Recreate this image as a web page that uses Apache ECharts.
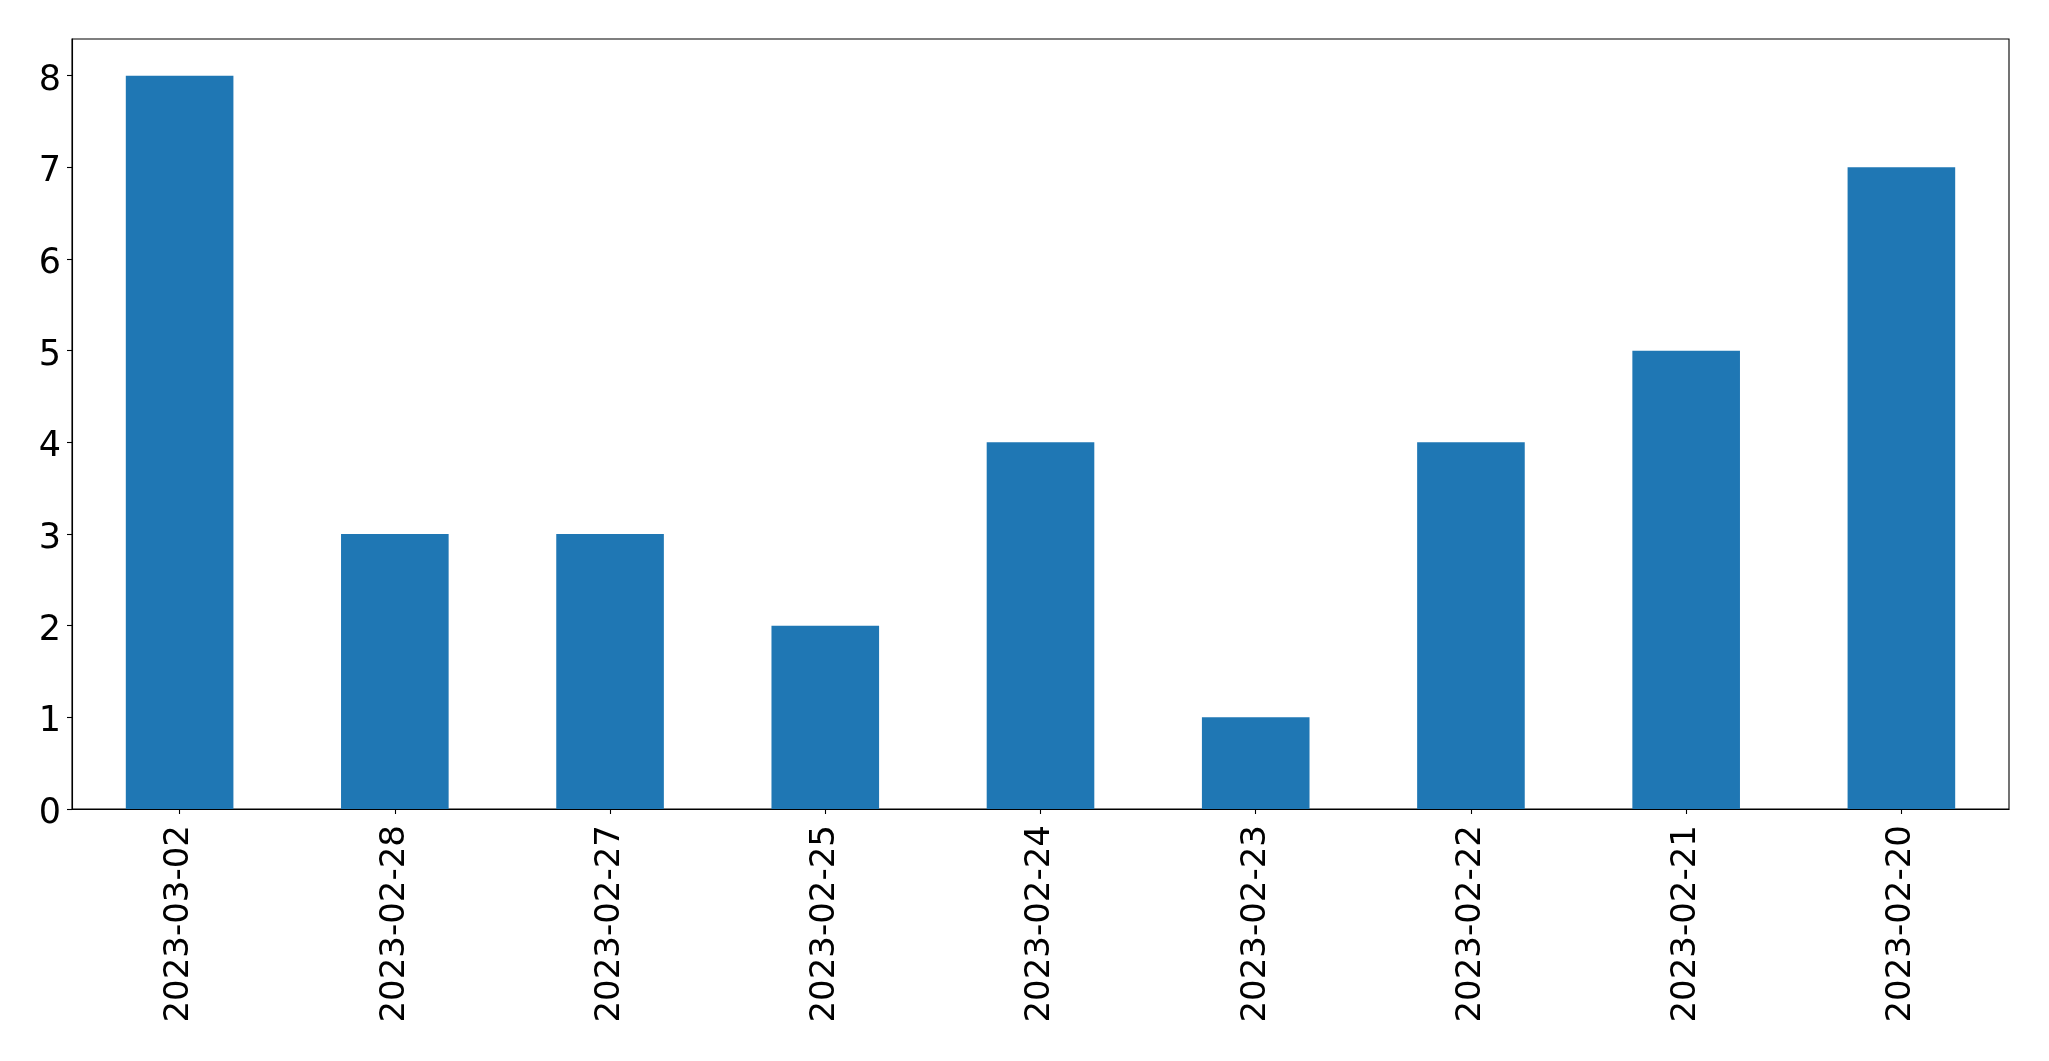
<!DOCTYPE html>
<html>
<head>
<meta charset="utf-8">
<script src="https://cdn.jsdelivr.net/npm/echarts@6/dist/echarts.min.js"></script>
<style>html,body{margin:0;padding:0;background:#fff;}#c{width:2049px;height:1061px;}</style>
</head>
<body>
<div id="c"></div>
<script>
const categories = ["2023-03-02","2023-02-28","2023-02-27","2023-02-25","2023-02-24","2023-02-23","2023-02-22","2023-02-21","2023-02-20"];
const values = [8,3,3,2,4,1,4,5,7];
const yTicks = [0,1,2,3,4,5,6,7,8];

const chart = echarts.init(document.getElementById('c'), null, {renderer:'canvas'});
const font = 'DejaVu Sans';
chart.setOption({
  animation:false,
  backgroundColor:'#fff',
  grid:{left:72, right:40, top:39, bottom:252, show:true, borderColor:'#000', borderWidth:1.1, backgroundColor:'transparent'},
  xAxis:{
    type:'category', data:categories, boundaryGap:true,
    axisLine:{show:true, lineStyle:{color:'#000', width:1.1}},
    axisTick:{show:true, alignWithLabel:true, length:5, lineStyle:{color:'#000', width:1.1}},
    axisLabel:{rotate:90, color:'#000', fontFamily:font, fontSize:34, margin:16, interval:0},
    splitLine:{show:false}
  },
  yAxis:{
    type:'value', min:0, max:8.4, interval:1,
    axisLine:{show:true, lineStyle:{color:'#000', width:1.1}},
    axisTick:{show:true, length:5, customValues:yTicks, lineStyle:{color:'#000', width:1.1}},
    axisLabel:{
      color:'#000', fontFamily:font, fontSize:35, margin:11, customValues:yTicks,
      formatter:function(v){ return '{a|' + v + '}'; },
      rich:{a:{color:'#000', fontFamily:font, fontSize:35, padding:[10,0,0,0]}}
    },
    splitLine:{show:false}
  },
  series:[{type:'bar', data:values, barWidth:'50%', itemStyle:{color:'#1f77b4'}}]
});
</script>
</body>
</html>
